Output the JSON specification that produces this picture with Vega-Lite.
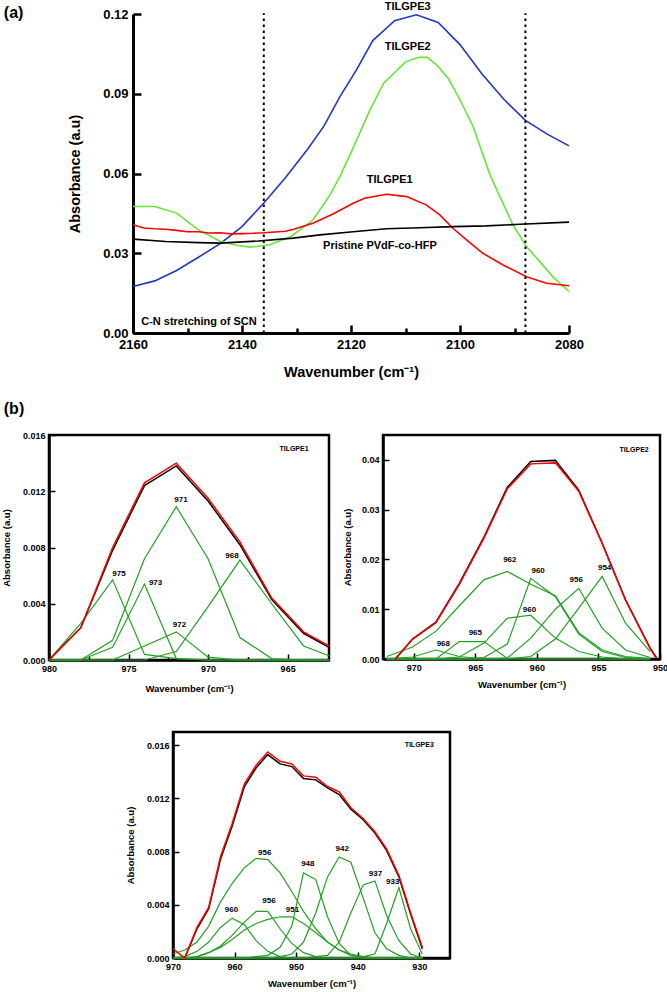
{
"$schema": "https://vega.github.io/schema/vega-lite/v6.json",
"autosize": {"type": "none"},
"padding": {"left": 49, "top": 14, "right": 618, "bottom": 978},
"background": "white",
"spacing": 20,
"config": {
  "view": {"stroke": "black", "strokeWidth": 2.5},
  "axis": {"grid": false, "domainColor": "black", "tickColor": "black", "labelColor": "black", "titleColor": "black", "labelFont": "Liberation Sans", "titleFont": "Liberation Sans", "labelFontWeight": "bold", "titleFontWeight": "bold", "labelFlush": false, "labelOverlap": false, "labelBound": false},
  "text": {"font": "Liberation Sans", "fontWeight": "bold", "baseline": "middle", "align": "center", "color": "black"}
},
"vconcat": [
 {"hconcat": [
  {"width": 30, "height": 1, "view": {"stroke": null}, "data": {"values": [{"t": ""}]}, "mark": {"type": "text"}, "encoding": {"text": {"field": "t"}}},
  {"width": 436, "height": 319, "view": {"stroke": null},
   "layer": [
    {"data": {"name": "a_lines"}, "mark": {"type": "line", "strokeWidth": 1.6},
     "encoding": {
      "x": {"field": "wn", "type": "quantitative", "scale": {"domain": [2080, 2160], "reverse": true, "nice": false, "zero": false},
        "axis": {"title": "Wavenumber (cm⁻¹)", "values": [2080,2090,2100,2110,2120,2130,2140,2150,2160], "labelExpr": "datum.value % 20 === 0 ? format(datum.value, 'd') : ''", "labelOverlap": false, "tickSize": {"condition": {"test": "datum.value % 20 === 0", "value": -8}, "value": -5}, "tickWidth": 2.5, "domainWidth": 3, "labelFontSize": 13, "titleFontSize": 14.5, "labelPadding": 13, "titlePadding": 11}},
      "y": {"field": "abs", "type": "quantitative", "scale": {"domain": [0, 0.12], "nice": false, "zero": false},
        "axis": {"title": "Absorbance (a.u)", "values": [0,0.015,0.03,0.045,0.06,0.075,0.09,0.105,0.12], "labelExpr": "round(datum.value*1000) % 30 === 0 ? format(datum.value, '.2f') : ''", "labelOverlap": false, "tickSize": {"condition": {"test": "round(datum.value*1000) % 30 === 0", "value": -8}, "value": -5}, "tickWidth": 2.5, "domainWidth": 3, "labelFontSize": 13, "titleFontSize": 14.5, "labelPadding": 13, "titlePadding": 20}},
      "color": {"field": "s", "type": "nominal", "scale": {"domain": ["Pristine","TILGPE1","TILGPE2","TILGPE3"], "range": ["#000000","#ff0000","#66e633","#2236c8"]}, "legend": null}
     }},
    {"data": {"name": "a_rules"}, "mark": {"type": "rule", "strokeDash": [2.5, 3.5], "strokeWidth": 2, "color": "black"},
     "encoding": {"x": {"field": "wn", "type": "quantitative"}, "y": {"field": "abs", "type": "quantitative"}, "y2": {"field": "abs2"}}},
    {"data": {"name": "a_text"}, "mark": {"type": "text", "fontSize": 11},
     "encoding": {"x": {"field": "wn", "type": "quantitative"}, "y": {"field": "abs", "type": "quantitative"}, "text": {"field": "label"}}},
    {"data": {"values": [{"wn": 2181.9, "abs": 0.1205, "label": "(a)"}]}, "mark": {"type": "text", "fontSize": 16},
     "encoding": {"x": {"field": "wn", "type": "quantitative"}, "y": {"field": "abs", "type": "quantitative"}, "text": {"field": "label"}}}
   ]}
 ], "spacing": 54, "bounds": "flush"},
 {"vconcat": [
  {"hconcat": [
   {"width": 280, "height": 225,
    "layer": [
     {"data": {"name": "b1"}, "transform": [{"filter": "datum.s != 'exp' && datum.s != 'fit'"}], "mark": {"type": "line", "color": "#23a023", "strokeWidth": 1.2},
      "encoding": {
       "x": {"field": "wn", "type": "quantitative", "scale": {"domain": [962.4, 980], "reverse": true, "nice": false, "zero": false},
         "axis": {"title": "Wavenumber (cm⁻¹)", "values": [965, 967.5, 970, 972.5, 975, 977.5, 980], "labelExpr": "datum.value % 5 === 0 ? format(datum.value, 'd') : ''", "labelOverlap": false, "tickSize": {"condition": {"test": "datum.value % 5 === 0", "value": -6}, "value": -3.5}, "tickWidth": 1.5, "domainWidth": 2.5, "labelFontSize": 9, "titleFontSize": 9.5, "labelPadding": 10.5, "titlePadding": 7}},
       "y": {"field": "abs", "type": "quantitative", "scale": {"domain": [0, 0.016], "nice": false, "zero": false},
         "axis": {"title": "Absorbance (a.u)", "values": [0,0.002,0.004,0.006,0.008,0.01,0.012,0.014,0.016], "labelExpr": "round(datum.value*1000) % 4 === 0 ? format(datum.value, '.3f') : ''", "labelOverlap": false, "tickSize": {"condition": {"test": "round(datum.value*1000) % 4 === 0", "value": -6}, "value": -3.5}, "tickWidth": 1.5, "domainWidth": 2.5, "labelFontSize": 9, "titleFontSize": 9.5, "labelPadding": 10, "titlePadding": 11}},
       "detail": {"field": "s"}
      }},
     {"data": {"name": "b1"}, "transform": [{"filter": "datum.s == 'exp'"}], "mark": {"type": "line", "color": "black", "strokeWidth": 1.5},
      "encoding": {"x": {"field": "wn", "type": "quantitative"}, "y": {"field": "abs", "type": "quantitative"}}},
     {"data": {"name": "b1"}, "transform": [{"filter": "datum.s == 'fit'"}], "mark": {"type": "line", "color": "#ff0000", "strokeWidth": 1.5},
      "encoding": {"x": {"field": "wn", "type": "quantitative"}, "y": {"field": "abs", "type": "quantitative"}}},
     {"data": {"name": "b1_text"}, "mark": {"type": "text", "fontSize": 8},
      "encoding": {"x": {"field": "wn", "type": "quantitative"}, "y": {"field": "abs", "type": "quantitative"}, "text": {"field": "label"}}},
     {"data": {"values": [{"wn": 964.6, "abs": 0.015, "label": "TILGPE1"}]}, "mark": {"type": "text", "fontSize": 7},
      "encoding": {"x": {"field": "wn", "type": "quantitative"}, "y": {"field": "abs", "type": "quantitative"}, "text": {"field": "label"}}},
     {"data": {"values": [{"wn": 982.2, "abs": 0.01785, "label": "(b)"}]}, "mark": {"type": "text", "fontSize": 16},
      "encoding": {"x": {"field": "wn", "type": "quantitative"}, "y": {"field": "abs", "type": "quantitative"}, "text": {"field": "label"}}}
    ]},
   {"width": 277, "height": 224,
    "layer": [
     {"data": {"name": "b2"}, "transform": [{"filter": "datum.s != 'exp' && datum.s != 'fit'"}], "mark": {"type": "line", "color": "#23a023", "strokeWidth": 1.2},
      "encoding": {
       "x": {"field": "wn", "type": "quantitative", "scale": {"domain": [950, 972.5], "reverse": true, "nice": false, "zero": false},
         "axis": {"title": "Wavenumber (cm⁻¹)", "values": [970, 967.5, 965, 962.5, 960, 957.5, 955, 952.5, 950], "labelExpr": "datum.value % 5 === 0 ? format(datum.value, 'd') : ''", "labelOverlap": false, "tickSize": {"condition": {"test": "datum.value % 5 === 0", "value": -6}, "value": -3.5}, "tickWidth": 1.5, "domainWidth": 2.5, "labelFontSize": 9, "titleFontSize": 9.5, "labelPadding": 10.5, "titlePadding": 7}},
       "y": {"field": "abs", "type": "quantitative", "scale": {"domain": [0, 0.045], "nice": false, "zero": false},
         "axis": {"title": "Absorbance (a.u)", "values": [0,0.005,0.01,0.015,0.02,0.025,0.03,0.035,0.04], "labelExpr": "round(datum.value*1000) % 10 === 0 ? format(datum.value, '.2f') : ''", "labelOverlap": false, "tickSize": {"condition": {"test": "round(datum.value*1000) % 10 === 0", "value": -6}, "value": -3.5}, "tickWidth": 1.5, "domainWidth": 2.5, "labelFontSize": 9, "titleFontSize": 9.5, "labelPadding": 10, "titlePadding": 9}},
       "detail": {"field": "s"}
      }},
     {"data": {"name": "b2"}, "transform": [{"filter": "datum.s == 'exp'"}], "mark": {"type": "line", "color": "black", "strokeWidth": 1.5},
      "encoding": {"x": {"field": "wn", "type": "quantitative"}, "y": {"field": "abs", "type": "quantitative"}}},
     {"data": {"name": "b2"}, "transform": [{"filter": "datum.s == 'fit'"}], "mark": {"type": "line", "color": "#ff0000", "strokeWidth": 1.5},
      "encoding": {"x": {"field": "wn", "type": "quantitative"}, "y": {"field": "abs", "type": "quantitative"}}},
     {"data": {"name": "b2_text"}, "mark": {"type": "text", "fontSize": 8},
      "encoding": {"x": {"field": "wn", "type": "quantitative"}, "y": {"field": "abs", "type": "quantitative"}, "text": {"field": "label"}}},
     {"data": {"values": [{"wn": 952.1, "abs": 0.042, "label": "TILGPE2"}]}, "mark": {"type": "text", "fontSize": 7},
      "encoding": {"x": {"field": "wn", "type": "quantitative"}, "y": {"field": "abs", "type": "quantitative"}, "text": {"field": "label"}}}
    ]}
  ], "spacing": 54, "bounds": "flush"},
  {"hconcat": [
   {"width": 70, "height": 1, "view": {"stroke": null}, "data": {"values": [{"t": ""}]}, "mark": {"type": "text"}, "encoding": {"text": {"field": "t"}}},
   {"width": 277, "height": 226,
    "layer": [
     {"data": {"name": "b3"}, "transform": [{"filter": "datum.s != 'exp' && datum.s != 'fit'"}], "mark": {"type": "line", "color": "#23a023", "strokeWidth": 1.2},
      "encoding": {
       "x": {"field": "wn", "type": "quantitative", "scale": {"domain": [925, 970], "reverse": true, "nice": false, "zero": false},
         "axis": {"title": "Wavenumber (cm⁻¹)", "values": [970, 965, 960, 955, 950, 945, 940, 935, 930], "labelExpr": "datum.value % 10 === 0 ? format(datum.value, 'd') : ''", "labelOverlap": false, "tickSize": {"condition": {"test": "datum.value % 10 === 0", "value": -6}, "value": -3.5}, "tickWidth": 1.5, "domainWidth": 2.5, "labelFontSize": 9, "titleFontSize": 9.5, "labelPadding": 10.5, "titlePadding": 7}},
       "y": {"field": "abs", "type": "quantitative", "scale": {"domain": [0, 0.017], "nice": false, "zero": false},
         "axis": {"title": "Absorbance (a.u)", "values": [0,0.002,0.004,0.006,0.008,0.01,0.012,0.014,0.016], "labelExpr": "round(datum.value*1000) % 4 === 0 ? format(datum.value, '.3f') : ''", "labelOverlap": false, "tickSize": {"condition": {"test": "round(datum.value*1000) % 4 === 0", "value": -6}, "value": -3.5}, "tickWidth": 1.5, "domainWidth": 2.5, "labelFontSize": 9, "titleFontSize": 9.5, "labelPadding": 10, "titlePadding": 11}},
       "detail": {"field": "s"}
      }},
     {"data": {"name": "b3"}, "transform": [{"filter": "datum.s == 'exp'"}], "mark": {"type": "line", "color": "black", "strokeWidth": 1.5},
      "encoding": {"x": {"field": "wn", "type": "quantitative"}, "y": {"field": "abs", "type": "quantitative"}}},
     {"data": {"name": "b3"}, "transform": [{"filter": "datum.s == 'fit'"}], "mark": {"type": "line", "color": "#ff0000", "strokeWidth": 1.5},
      "encoding": {"x": {"field": "wn", "type": "quantitative"}, "y": {"field": "abs", "type": "quantitative"}}},
     {"data": {"name": "b3_text"}, "mark": {"type": "text", "fontSize": 8},
      "encoding": {"x": {"field": "wn", "type": "quantitative"}, "y": {"field": "abs", "type": "quantitative"}, "text": {"field": "label"}}},
     {"data": {"values": [{"wn": 930.0, "abs": 0.016, "label": "TILGPE3"}]}, "mark": {"type": "text", "fontSize": 7},
      "encoding": {"x": {"field": "wn", "type": "quantitative"}, "y": {"field": "abs", "type": "quantitative"}, "text": {"field": "label"}}}
    ]}
  ], "spacing": 54, "bounds": "flush"}
 ], "spacing": 32}
],
"datasets": {
 "a_lines": [
  {"s":"TILGPE3","wn":2160,"abs":0.0175},{"s":"TILGPE3","wn":2156,"abs":0.0196},{"s":"TILGPE3","wn":2152,"abs":0.0235},{"s":"TILGPE3","wn":2148,"abs":0.0285},{"s":"TILGPE3","wn":2144,"abs":0.0336},{"s":"TILGPE3","wn":2140,"abs":0.0400},{"s":"TILGPE3","wn":2136,"abs":0.0489},{"s":"TILGPE3","wn":2132,"abs":0.0585},{"s":"TILGPE3","wn":2128,"abs":0.0690},{"s":"TILGPE3","wn":2125,"abs":0.0777},{"s":"TILGPE3","wn":2122,"abs":0.0890},{"s":"TILGPE3","wn":2119,"abs":0.0990},{"s":"TILGPE3","wn":2116,"abs":0.1100},{"s":"TILGPE3","wn":2112,"abs":0.1175},{"s":"TILGPE3","wn":2108,"abs":0.1197},{"s":"TILGPE3","wn":2104,"abs":0.1168},{"s":"TILGPE3","wn":2100,"abs":0.1085},{"s":"TILGPE3","wn":2096,"abs":0.0975},{"s":"TILGPE3","wn":2092,"abs":0.0880},{"s":"TILGPE3","wn":2088,"abs":0.0800},{"s":"TILGPE3","wn":2084,"abs":0.0748},{"s":"TILGPE3","wn":2080,"abs":0.0704},
  {"s":"TILGPE2","wn":2160,"abs":0.0476},{"s":"TILGPE2","wn":2156,"abs":0.0476},{"s":"TILGPE2","wn":2152,"abs":0.0451},{"s":"TILGPE2","wn":2148,"abs":0.0388},{"s":"TILGPE2","wn":2144,"abs":0.0345},{"s":"TILGPE2","wn":2141,"abs":0.0330},{"s":"TILGPE2","wn":2138.5,"abs":0.0323},{"s":"TILGPE2","wn":2135,"abs":0.0331},{"s":"TILGPE2","wn":2131,"abs":0.0363},{"s":"TILGPE2","wn":2127,"abs":0.0425},{"s":"TILGPE2","wn":2124,"abs":0.0515},{"s":"TILGPE2","wn":2122,"abs":0.0590},{"s":"TILGPE2","wn":2119.5,"abs":0.0701},{"s":"TILGPE2","wn":2116.5,"abs":0.0840},{"s":"TILGPE2","wn":2114,"abs":0.0940},{"s":"TILGPE2","wn":2110,"abs":0.1020},{"s":"TILGPE2","wn":2107.5,"abs":0.1037},{"s":"TILGPE2","wn":2106,"abs":0.1037},{"s":"TILGPE2","wn":2104.3,"abs":0.1009},{"s":"TILGPE2","wn":2102.2,"abs":0.0959},{"s":"TILGPE2","wn":2100,"abs":0.0877},{"s":"TILGPE2","wn":2097.6,"abs":0.0777},{"s":"TILGPE2","wn":2094.5,"abs":0.0595},{"s":"TILGPE2","wn":2090.3,"abs":0.0407},{"s":"TILGPE2","wn":2087.8,"abs":0.0325},{"s":"TILGPE2","wn":2085,"abs":0.0260},{"s":"TILGPE2","wn":2083,"abs":0.0212},{"s":"TILGPE2","wn":2080,"abs":0.0156},
  {"s":"TILGPE1","wn":2160,"abs":0.0407},{"s":"TILGPE1","wn":2158,"abs":0.0395},{"s":"TILGPE1","wn":2156,"abs":0.0392},{"s":"TILGPE1","wn":2154,"abs":0.0390},{"s":"TILGPE1","wn":2152,"abs":0.0386},{"s":"TILGPE1","wn":2150,"abs":0.0381},{"s":"TILGPE1","wn":2148,"abs":0.0381},{"s":"TILGPE1","wn":2146,"abs":0.0376},{"s":"TILGPE1","wn":2144,"abs":0.0377},{"s":"TILGPE1","wn":2142,"abs":0.0373},{"s":"TILGPE1","wn":2140,"abs":0.0374},{"s":"TILGPE1","wn":2138,"abs":0.0375},{"s":"TILGPE1","wn":2136,"abs":0.0377},{"s":"TILGPE1","wn":2134,"abs":0.0380},{"s":"TILGPE1","wn":2132,"abs":0.0383},{"s":"TILGPE1","wn":2130.5,"abs":0.0390},{"s":"TILGPE1","wn":2127,"abs":0.0413},{"s":"TILGPE1","wn":2123.4,"abs":0.0447},{"s":"TILGPE1","wn":2119.6,"abs":0.0488},{"s":"TILGPE1","wn":2117.5,"abs":0.0507},{"s":"TILGPE1","wn":2113.5,"abs":0.0522},{"s":"TILGPE1","wn":2109.8,"abs":0.0513},{"s":"TILGPE1","wn":2106.2,"abs":0.0482},{"s":"TILGPE1","wn":2103.7,"abs":0.0444},{"s":"TILGPE1","wn":2101.3,"abs":0.0394},{"s":"TILGPE1","wn":2098.8,"abs":0.0350},{"s":"TILGPE1","wn":2095.8,"abs":0.0300},{"s":"TILGPE1","wn":2092.1,"abs":0.0256},{"s":"TILGPE1","wn":2087.8,"abs":0.0212},{"s":"TILGPE1","wn":2084.1,"abs":0.0187},{"s":"TILGPE1","wn":2080,"abs":0.0178},
  {"s":"Pristine","wn":2160,"abs":0.0353},{"s":"Pristine","wn":2154,"abs":0.0344},{"s":"Pristine","wn":2148,"abs":0.0340},{"s":"Pristine","wn":2144,"abs":0.0338},{"s":"Pristine","wn":2137,"abs":0.0346},{"s":"Pristine","wn":2130.6,"abs":0.0357},{"s":"Pristine","wn":2125.7,"abs":0.0369},{"s":"Pristine","wn":2119.6,"abs":0.0381},{"s":"Pristine","wn":2113.5,"abs":0.0392},{"s":"Pristine","wn":2107.4,"abs":0.0396},{"s":"Pristine","wn":2101.3,"abs":0.0400},{"s":"Pristine","wn":2095.2,"abs":0.0403},{"s":"Pristine","wn":2089,"abs":0.0409},{"s":"Pristine","wn":2080,"abs":0.0417}
 ],
 "a_rules": [{"wn": 2136, "abs": 0, "abs2": 0.1203}, {"wn": 2088, "abs": 0, "abs2": 0.1203}],
 "a_text": [
  {"label": "TILGPE3", "wn": 2109.6, "abs": 0.1227},
  {"label": "TILGPE2", "wn": 2109.6, "abs": 0.1077},
  {"label": "TILGPE1", "wn": 2112.9, "abs": 0.0576},
  {"label": "Pristine PVdF-co-HFP", "wn": 2114.7, "abs": 0.0328},
  {"label": "C-N stretching of SCN", "wn": 2147.9, "abs": 0.0043}
 ],
 "b1": [
  {"s":"exp","wn":980,"abs":0},{"s":"exp","wn":978,"abs":0.0023},{"s":"exp","wn":976,"abs":0.0078},{"s":"exp","wn":974,"abs":0.0124},{"s":"exp","wn":972,"abs":0.0138},{"s":"exp","wn":970,"abs":0.0113},{"s":"exp","wn":968,"abs":0.0082},{"s":"exp","wn":966,"abs":0.0043},{"s":"exp","wn":964,"abs":0.0019},{"s":"exp","wn":962.4,"abs":0.0009},
  {"s":"fit","wn":980,"abs":0},{"s":"fit","wn":978,"abs":0.0023},{"s":"fit","wn":976,"abs":0.0080},{"s":"fit","wn":974,"abs":0.0126},{"s":"fit","wn":972,"abs":0.0140},{"s":"fit","wn":970,"abs":0.0115},{"s":"fit","wn":968,"abs":0.0084},{"s":"fit","wn":966,"abs":0.0044},{"s":"fit","wn":964,"abs":0.0020},{"s":"fit","wn":962.4,"abs":0.0010},
  {"s":"c975","wn":980,"abs":0},{"s":"c975","wn":978,"abs":0.0026},{"s":"c975","wn":976,"abs":0.0057},{"s":"c975","wn":974,"abs":0.0004},{"s":"c975","wn":972,"abs":0.0001},{"s":"c975","wn":970,"abs":0},{"s":"c975","wn":968,"abs":0},{"s":"c975","wn":966,"abs":0},{"s":"c975","wn":964,"abs":0},{"s":"c975","wn":962.4,"abs":0},
  {"s":"c973","wn":980,"abs":0},{"s":"c973","wn":978,"abs":0},{"s":"c973","wn":976,"abs":0.0009},{"s":"c973","wn":974,"abs":0.0054},{"s":"c973","wn":972,"abs":0.0001},{"s":"c973","wn":970,"abs":0},{"s":"c973","wn":968,"abs":0},{"s":"c973","wn":966,"abs":0},{"s":"c973","wn":964,"abs":0},{"s":"c973","wn":962.4,"abs":0},
  {"s":"c971","wn":980,"abs":0},{"s":"c971","wn":978,"abs":0},{"s":"c971","wn":976,"abs":0.0014},{"s":"c971","wn":974,"abs":0.0072},{"s":"c971","wn":972,"abs":0.0109},{"s":"c971","wn":970,"abs":0.0072},{"s":"c971","wn":968,"abs":0.0016},{"s":"c971","wn":966,"abs":0.0001},{"s":"c971","wn":964,"abs":0},{"s":"c971","wn":962.4,"abs":0},
  {"s":"c972","wn":980,"abs":0},{"s":"c972","wn":978,"abs":0},{"s":"c972","wn":976,"abs":0},{"s":"c972","wn":974,"abs":0.0010},{"s":"c972","wn":972,"abs":0.0020},{"s":"c972","wn":970,"abs":0.0002},{"s":"c972","wn":968,"abs":0},{"s":"c972","wn":966,"abs":0},{"s":"c972","wn":964,"abs":0},{"s":"c972","wn":962.4,"abs":0},
  {"s":"c968","wn":980,"abs":0},{"s":"c968","wn":978,"abs":0},{"s":"c968","wn":976,"abs":0},{"s":"c968","wn":974,"abs":0},{"s":"c968","wn":972,"abs":0.0006},{"s":"c968","wn":970,"abs":0.0038},{"s":"c968","wn":968,"abs":0.0071},{"s":"c968","wn":966,"abs":0.0040},{"s":"c968","wn":964,"abs":0.0010},{"s":"c968","wn":962.4,"abs":0.0003}
 ],
 "b1_text": [
  {"label": "975", "wn": 975.6, "abs": 0.0061},
  {"label": "973", "wn": 973.3, "abs": 0.0055},
  {"label": "971", "wn": 971.7, "abs": 0.0114},
  {"label": "972", "wn": 971.8, "abs": 0.0025},
  {"label": "968", "wn": 968.5, "abs": 0.0074}
 ],
 "b2": [
  {"s":"exp","wn":971.5,"abs":0},{"s":"exp","wn":970.1,"abs":0.0040},{"s":"exp","wn":968.2,"abs":0.0074},{"s":"exp","wn":966.3,"abs":0.0152},{"s":"exp","wn":964.3,"abs":0.0245},{"s":"exp","wn":962.4,"abs":0.0345},{"s":"exp","wn":960.5,"abs":0.0397},{"s":"exp","wn":958.5,"abs":0.0399},{"s":"exp","wn":956.6,"abs":0.0339},{"s":"exp","wn":954.7,"abs":0.0233},{"s":"exp","wn":952.8,"abs":0.0119},{"s":"exp","wn":950.8,"abs":0.0022},{"s":"exp","wn":950.3,"abs":0.0003},
  {"s":"fit","wn":971.5,"abs":0},{"s":"fit","wn":970.1,"abs":0.0040},{"s":"fit","wn":968.2,"abs":0.0073},{"s":"fit","wn":966.3,"abs":0.0150},{"s":"fit","wn":964.3,"abs":0.0243},{"s":"fit","wn":962.4,"abs":0.0342},{"s":"fit","wn":960.5,"abs":0.0392},{"s":"fit","wn":958.5,"abs":0.0394},{"s":"fit","wn":956.6,"abs":0.0337},{"s":"fit","wn":954.7,"abs":0.0232},{"s":"fit","wn":952.8,"abs":0.0118},{"s":"fit","wn":950.8,"abs":0.0021},{"s":"fit","wn":950.3,"abs":0.0002},
  {"s":"c962","wn":972.2,"abs":0.0005},{"s":"c962","wn":970.1,"abs":0.0024},{"s":"c962","wn":968.2,"abs":0.0056},{"s":"c962","wn":966.3,"abs":0.0107},{"s":"c962","wn":964.3,"abs":0.0159},{"s":"c962","wn":962.4,"abs":0.0176},{"s":"c962","wn":960.5,"abs":0.0150},{"s":"c962","wn":958.5,"abs":0.0127},{"s":"c962","wn":956.6,"abs":0.0053},{"s":"c962","wn":954.7,"abs":0.0018},{"s":"c962","wn":952.8,"abs":0.0005},{"s":"c962","wn":950.8,"abs":0.0001},
  {"s":"c960a","wn":972.2,"abs":0},{"s":"c960a","wn":970.1,"abs":0},{"s":"c960a","wn":968.2,"abs":0},{"s":"c960a","wn":966.3,"abs":0},{"s":"c960a","wn":964.3,"abs":0.0003},{"s":"c960a","wn":962.4,"abs":0.0030},{"s":"c960a","wn":960.5,"abs":0.0162},{"s":"c960a","wn":958.5,"abs":0.0125},{"s":"c960a","wn":956.6,"abs":0.0050},{"s":"c960a","wn":954.7,"abs":0.0015},{"s":"c960a","wn":952.8,"abs":0.0003},{"s":"c960a","wn":950.8,"abs":0},
  {"s":"c960b","wn":972.2,"abs":0},{"s":"c960b","wn":970.1,"abs":0},{"s":"c960b","wn":968.2,"abs":0},{"s":"c960b","wn":966.3,"abs":0.0004},{"s":"c960b","wn":964.3,"abs":0.0032},{"s":"c960b","wn":962.4,"abs":0.0082},{"s":"c960b","wn":960.5,"abs":0.0088},{"s":"c960b","wn":958.5,"abs":0.0042},{"s":"c960b","wn":956.6,"abs":0.0015},{"s":"c960b","wn":954.7,"abs":0.0004},{"s":"c960b","wn":952.8,"abs":0},{"s":"c960b","wn":950.8,"abs":0},
  {"s":"c965","wn":972.2,"abs":0},{"s":"c965","wn":970.1,"abs":0},{"s":"c965","wn":968.2,"abs":0},{"s":"c965","wn":966.3,"abs":0.0035},{"s":"c965","wn":964.3,"abs":0.0035},{"s":"c965","wn":962.4,"abs":0.0001},{"s":"c965","wn":960.5,"abs":0},{"s":"c965","wn":958.5,"abs":0},{"s":"c965","wn":956.6,"abs":0},{"s":"c965","wn":954.7,"abs":0},{"s":"c965","wn":952.8,"abs":0},{"s":"c965","wn":950.8,"abs":0},
  {"s":"c968","wn":972.2,"abs":0},{"s":"c968","wn":970.1,"abs":0.0004},{"s":"c968","wn":968.2,"abs":0.0018},{"s":"c968","wn":966.3,"abs":0.0005},{"s":"c968","wn":964.3,"abs":0},{"s":"c968","wn":962.4,"abs":0},{"s":"c968","wn":960.5,"abs":0},{"s":"c968","wn":958.5,"abs":0},{"s":"c968","wn":956.6,"abs":0},{"s":"c968","wn":954.7,"abs":0},{"s":"c968","wn":952.8,"abs":0},{"s":"c968","wn":950.8,"abs":0},
  {"s":"c956","wn":972.2,"abs":0},{"s":"c956","wn":970.1,"abs":0},{"s":"c956","wn":968.2,"abs":0},{"s":"c956","wn":966.3,"abs":0},{"s":"c956","wn":964.3,"abs":0},{"s":"c956","wn":962.4,"abs":0.0002},{"s":"c956","wn":960.5,"abs":0.0042},{"s":"c956","wn":958.5,"abs":0.0100},{"s":"c956","wn":956.6,"abs":0.0142},{"s":"c956","wn":954.7,"abs":0.0062},{"s":"c956","wn":952.8,"abs":0.0018},{"s":"c956","wn":950.8,"abs":0.0003},
  {"s":"c954","wn":972.2,"abs":0},{"s":"c954","wn":970.1,"abs":0},{"s":"c954","wn":968.2,"abs":0},{"s":"c954","wn":966.3,"abs":0},{"s":"c954","wn":964.3,"abs":0},{"s":"c954","wn":962.4,"abs":0},{"s":"c954","wn":960.5,"abs":0.0005},{"s":"c954","wn":958.5,"abs":0.0040},{"s":"c954","wn":956.6,"abs":0.0102},{"s":"c954","wn":954.7,"abs":0.0166},{"s":"c954","wn":952.8,"abs":0.0072},{"s":"c954","wn":950.8,"abs":0.0015}
 ],
 "b2_text": [
  {"label": "962", "wn": 962.2, "abs": 0.0198},
  {"label": "960", "wn": 959.9, "abs": 0.0176},
  {"label": "956", "wn": 956.8, "abs": 0.0158},
  {"label": "954", "wn": 954.5, "abs": 0.0183},
  {"label": "960", "wn": 960.6, "abs": 0.0099},
  {"label": "965", "wn": 965.0, "abs": 0.0053},
  {"label": "968", "wn": 967.6, "abs": 0.0030}
 ],
 "b3": [
  {"s":"fit","wn":970.0,"abs":0.0007},{"s":"fit","wn":968.1,"abs":0},{"s":"fit","wn":966.1,"abs":0.0023},{"s":"fit","wn":964.2,"abs":0.0038},{"s":"fit","wn":962.3,"abs":0.0076},{"s":"fit","wn":960.4,"abs":0.0101},{"s":"fit","wn":958.4,"abs":0.0131},{"s":"fit","wn":956.5,"abs":0.0145},{"s":"fit","wn":954.6,"abs":0.0155},{"s":"fit","wn":952.6,"abs":0.0148},{"s":"fit","wn":950.7,"abs":0.0146},{"s":"fit","wn":948.8,"abs":0.0137},{"s":"fit","wn":946.8,"abs":0.0136},{"s":"fit","wn":944.9,"abs":0.0129},{"s":"fit","wn":943.0,"abs":0.0125},{"s":"fit","wn":941.1,"abs":0.0113},{"s":"fit","wn":939.1,"abs":0.0105},{"s":"fit","wn":937.2,"abs":0.0095},{"s":"fit","wn":935.3,"abs":0.0082},{"s":"fit","wn":933.3,"abs":0.0062},{"s":"fit","wn":931.4,"abs":0.0034},{"s":"fit","wn":929.5,"abs":0.0008},
  {"s":"exp","wn":968.1,"abs":0},{"s":"exp","wn":966.1,"abs":0.0022},{"s":"exp","wn":964.2,"abs":0.0037},{"s":"exp","wn":962.3,"abs":0.0074},{"s":"exp","wn":960.4,"abs":0.0099},{"s":"exp","wn":958.4,"abs":0.0129},{"s":"exp","wn":956.5,"abs":0.0143},{"s":"exp","wn":954.6,"abs":0.0153},{"s":"exp","wn":952.6,"abs":0.0146},{"s":"exp","wn":950.7,"abs":0.0144},{"s":"exp","wn":948.8,"abs":0.0135},{"s":"exp","wn":946.8,"abs":0.0134},{"s":"exp","wn":944.9,"abs":0.0128},{"s":"exp","wn":943.0,"abs":0.0123},{"s":"exp","wn":941.1,"abs":0.0112},{"s":"exp","wn":939.1,"abs":0.0104},{"s":"exp","wn":937.2,"abs":0.0094},{"s":"exp","wn":935.3,"abs":0.0081},{"s":"exp","wn":933.3,"abs":0.0061},{"s":"exp","wn":931.4,"abs":0.0033},{"s":"exp","wn":929.5,"abs":0.0007},
  {"s":"c956a","wn":970.0,"abs":0.0003},{"s":"c956a","wn":968.1,"abs":0.0006},{"s":"c956a","wn":966.1,"abs":0.0012},{"s":"c956a","wn":964.2,"abs":0.0024},{"s":"c956a","wn":962.3,"abs":0.0042},{"s":"c956a","wn":960.4,"abs":0.0056},{"s":"c956a","wn":958.4,"abs":0.0068},{"s":"c956a","wn":956.5,"abs":0.0075},{"s":"c956a","wn":954.6,"abs":0.0074},{"s":"c956a","wn":952.6,"abs":0.0064},{"s":"c956a","wn":950.7,"abs":0.0050},{"s":"c956a","wn":948.8,"abs":0.0035},{"s":"c956a","wn":946.8,"abs":0.0022},{"s":"c956a","wn":944.9,"abs":0.0012},{"s":"c956a","wn":943.0,"abs":0.0006},{"s":"c956a","wn":941.1,"abs":0.0002},{"s":"c956a","wn":939.1,"abs":0.0001},{"s":"c956a","wn":937.2,"abs":0},{"s":"c956a","wn":935.3,"abs":0},{"s":"c956a","wn":933.3,"abs":0},{"s":"c956a","wn":931.4,"abs":0},{"s":"c956a","wn":929.5,"abs":0},
  {"s":"c960","wn":970.0,"abs":0},{"s":"c960","wn":968.1,"abs":0.0001},{"s":"c960","wn":966.1,"abs":0.0005},{"s":"c960","wn":964.2,"abs":0.0012},{"s":"c960","wn":962.3,"abs":0.0023},{"s":"c960","wn":960.4,"abs":0.0030},{"s":"c960","wn":958.4,"abs":0.0025},{"s":"c960","wn":956.5,"abs":0.0013},{"s":"c960","wn":954.6,"abs":0.0005},{"s":"c960","wn":952.6,"abs":0.0001},{"s":"c960","wn":950.7,"abs":0},{"s":"c960","wn":948.8,"abs":0},{"s":"c960","wn":946.8,"abs":0},{"s":"c960","wn":944.9,"abs":0},{"s":"c960","wn":943.0,"abs":0},{"s":"c960","wn":941.1,"abs":0},{"s":"c960","wn":939.1,"abs":0},{"s":"c960","wn":937.2,"abs":0},{"s":"c960","wn":935.3,"abs":0},{"s":"c960","wn":933.3,"abs":0},{"s":"c960","wn":931.4,"abs":0},{"s":"c960","wn":929.5,"abs":0},
  {"s":"c956b","wn":970.0,"abs":0},{"s":"c956b","wn":968.1,"abs":0},{"s":"c956b","wn":966.1,"abs":0.0001},{"s":"c956b","wn":964.2,"abs":0.0004},{"s":"c956b","wn":962.3,"abs":0.0009},{"s":"c956b","wn":960.4,"abs":0.0017},{"s":"c956b","wn":958.4,"abs":0.0027},{"s":"c956b","wn":956.5,"abs":0.0035},{"s":"c956b","wn":954.6,"abs":0.0035},{"s":"c956b","wn":952.6,"abs":0.0022},{"s":"c956b","wn":950.7,"abs":0.0011},{"s":"c956b","wn":948.8,"abs":0.0004},{"s":"c956b","wn":946.8,"abs":0.0001},{"s":"c956b","wn":944.9,"abs":0},{"s":"c956b","wn":943.0,"abs":0},{"s":"c956b","wn":941.1,"abs":0},{"s":"c956b","wn":939.1,"abs":0},{"s":"c956b","wn":937.2,"abs":0},{"s":"c956b","wn":935.3,"abs":0},{"s":"c956b","wn":933.3,"abs":0},{"s":"c956b","wn":931.4,"abs":0},{"s":"c956b","wn":929.5,"abs":0},
  {"s":"c951","wn":970.0,"abs":0},{"s":"c951","wn":968.1,"abs":0},{"s":"c951","wn":966.1,"abs":0.0001},{"s":"c951","wn":964.2,"abs":0.0004},{"s":"c951","wn":962.3,"abs":0.0008},{"s":"c951","wn":960.4,"abs":0.0014},{"s":"c951","wn":958.4,"abs":0.0021},{"s":"c951","wn":956.5,"abs":0.0026},{"s":"c951","wn":954.6,"abs":0.0029},{"s":"c951","wn":952.6,"abs":0.0031},{"s":"c951","wn":950.7,"abs":0.0031},{"s":"c951","wn":948.8,"abs":0.0026},{"s":"c951","wn":946.8,"abs":0.0019},{"s":"c951","wn":944.9,"abs":0.0012},{"s":"c951","wn":943.0,"abs":0.0006},{"s":"c951","wn":941.1,"abs":0.0003},{"s":"c951","wn":939.1,"abs":0.0001},{"s":"c951","wn":937.2,"abs":0},{"s":"c951","wn":935.3,"abs":0},{"s":"c951","wn":933.3,"abs":0},{"s":"c951","wn":931.4,"abs":0},{"s":"c951","wn":929.5,"abs":0},
  {"s":"c948","wn":970.0,"abs":0},{"s":"c948","wn":968.1,"abs":0},{"s":"c948","wn":966.1,"abs":0},{"s":"c948","wn":964.2,"abs":0},{"s":"c948","wn":962.3,"abs":0},{"s":"c948","wn":960.4,"abs":0},{"s":"c948","wn":958.4,"abs":0},{"s":"c948","wn":956.5,"abs":0.0001},{"s":"c948","wn":954.6,"abs":0.0002},{"s":"c948","wn":952.6,"abs":0.0008},{"s":"c948","wn":950.7,"abs":0.0024},{"s":"c948","wn":948.8,"abs":0.0064},{"s":"c948","wn":946.8,"abs":0.0059},{"s":"c948","wn":944.9,"abs":0.0031},{"s":"c948","wn":943.0,"abs":0.0011},{"s":"c948","wn":941.1,"abs":0.0002},{"s":"c948","wn":939.1,"abs":0},{"s":"c948","wn":937.2,"abs":0},{"s":"c948","wn":935.3,"abs":0},{"s":"c948","wn":933.3,"abs":0},{"s":"c948","wn":931.4,"abs":0},{"s":"c948","wn":929.5,"abs":0},
  {"s":"c942","wn":970.0,"abs":0},{"s":"c942","wn":968.1,"abs":0},{"s":"c942","wn":966.1,"abs":0},{"s":"c942","wn":964.2,"abs":0},{"s":"c942","wn":962.3,"abs":0},{"s":"c942","wn":960.4,"abs":0},{"s":"c942","wn":958.4,"abs":0},{"s":"c942","wn":956.5,"abs":0},{"s":"c942","wn":954.6,"abs":0},{"s":"c942","wn":952.6,"abs":0.0001},{"s":"c942","wn":950.7,"abs":0.0003},{"s":"c942","wn":948.8,"abs":0.0012},{"s":"c942","wn":946.8,"abs":0.0034},{"s":"c942","wn":944.9,"abs":0.0061},{"s":"c942","wn":943.0,"abs":0.0076},{"s":"c942","wn":941.1,"abs":0.0072},{"s":"c942","wn":939.1,"abs":0.0045},{"s":"c942","wn":937.2,"abs":0.0019},{"s":"c942","wn":935.3,"abs":0.0007},{"s":"c942","wn":933.3,"abs":0.0002},{"s":"c942","wn":931.4,"abs":0},{"s":"c942","wn":929.5,"abs":0},
  {"s":"c937","wn":970.0,"abs":0},{"s":"c937","wn":968.1,"abs":0},{"s":"c937","wn":966.1,"abs":0},{"s":"c937","wn":964.2,"abs":0},{"s":"c937","wn":962.3,"abs":0},{"s":"c937","wn":960.4,"abs":0},{"s":"c937","wn":958.4,"abs":0},{"s":"c937","wn":956.5,"abs":0},{"s":"c937","wn":954.6,"abs":0},{"s":"c937","wn":952.6,"abs":0},{"s":"c937","wn":950.7,"abs":0},{"s":"c937","wn":948.8,"abs":0},{"s":"c937","wn":946.8,"abs":0.0001},{"s":"c937","wn":944.9,"abs":0.0002},{"s":"c937","wn":943.0,"abs":0.0012},{"s":"c937","wn":941.1,"abs":0.0034},{"s":"c937","wn":939.1,"abs":0.0055},{"s":"c937","wn":937.2,"abs":0.0058},{"s":"c937","wn":935.3,"abs":0.0032},{"s":"c937","wn":933.3,"abs":0.0013},{"s":"c937","wn":931.4,"abs":0.0003},{"s":"c937","wn":929.5,"abs":0},
  {"s":"c933","wn":970.0,"abs":0},{"s":"c933","wn":968.1,"abs":0},{"s":"c933","wn":966.1,"abs":0},{"s":"c933","wn":964.2,"abs":0},{"s":"c933","wn":962.3,"abs":0},{"s":"c933","wn":960.4,"abs":0},{"s":"c933","wn":958.4,"abs":0},{"s":"c933","wn":956.5,"abs":0},{"s":"c933","wn":954.6,"abs":0},{"s":"c933","wn":952.6,"abs":0},{"s":"c933","wn":950.7,"abs":0},{"s":"c933","wn":948.8,"abs":0},{"s":"c933","wn":946.8,"abs":0},{"s":"c933","wn":944.9,"abs":0},{"s":"c933","wn":943.0,"abs":0},{"s":"c933","wn":941.1,"abs":0},{"s":"c933","wn":939.1,"abs":0.0001},{"s":"c933","wn":937.2,"abs":0.0003},{"s":"c933","wn":935.3,"abs":0.0026},{"s":"c933","wn":933.3,"abs":0.0053},{"s":"c933","wn":931.4,"abs":0.0022},{"s":"c933","wn":929.5,"abs":0.0003}
 ],
 "b3_text": [
  {"label": "956", "wn": 955.1, "abs": 0.0079},
  {"label": "960", "wn": 960.5, "abs": 0.0036},
  {"label": "956", "wn": 954.4, "abs": 0.0043},
  {"label": "951", "wn": 950.6, "abs": 0.0036},
  {"label": "948", "wn": 948.1, "abs": 0.0071},
  {"label": "942", "wn": 942.5, "abs": 0.0082},
  {"label": "937", "wn": 937.1, "abs": 0.0063},
  {"label": "933", "wn": 934.3, "abs": 0.0057}
 ]
}
}
